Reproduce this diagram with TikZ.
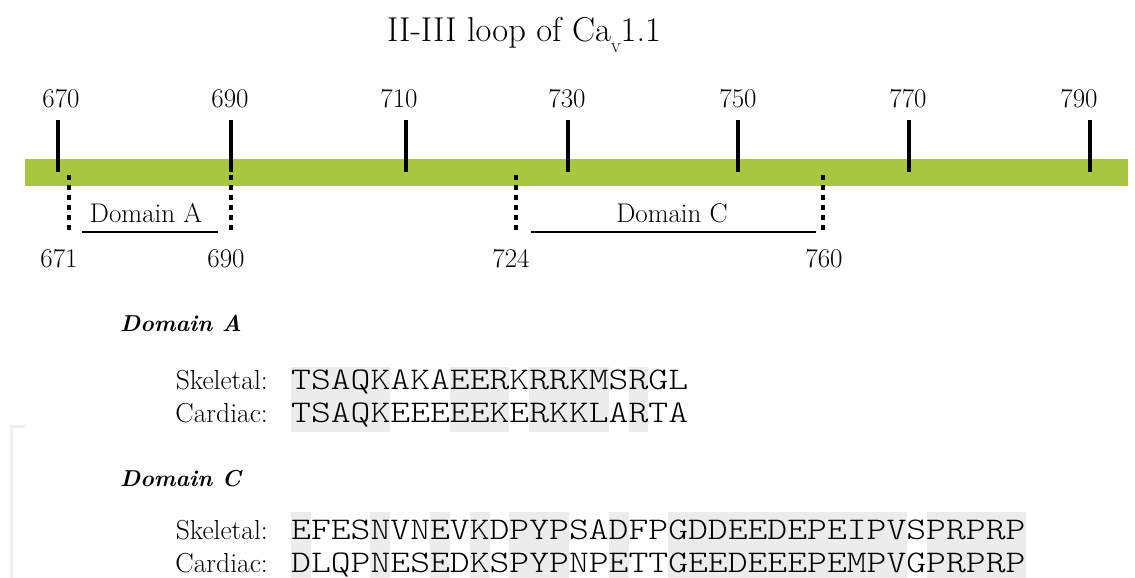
\documentclass[tikz,border=0pt]{standalone}
\usepackage{fontspec}
\newfontfamily\seqfont{lmmonolt10-regular}[Extension=.otf, FakeStretch=1.2]
\definecolor{barcolor}{RGB}{168,198,64}
\definecolor{shadegray}{RGB}{236,236,236}
\definecolor{faint}{RGB}{240,240,240}
\begin{document}
\begin{tikzpicture}[x=1pt,y=-1pt,
  lbl/.style={inner sep=0, anchor=base, font=\fontsize{27}{30}\selectfont},
  ticklin/.style={line width=3.5pt},
  dotlin/.style={line width=4.5pt, dash pattern=on 5pt off 5pt},
  ulin/.style={line width=2.5pt},
  shadebox/.style={fill=shadegray, draw=none},
  seq/.style={inner sep=0, anchor=base west, font=\seqfont\fontsize{31.5}{36}\selectfont},
  rowlbl/.style={inner sep=0, anchor=base east, font=\fontsize{27.5}{30}\selectfont},
  head/.style={inner sep=0, anchor=base west, font=\fontsize{23}{30}\selectfont\bfseries\itshape}]
\fill[white] (0,0) rectangle (1135,578);
\useasboundingbox (0,0) rectangle (1135,578);
% faint artifact
\draw[line width=3pt, faint] (25,426) -- (11,426) -- (11,578);
% title
\node[inner sep=0, anchor=base, font=\fontsize{34.5}{38}\selectfont] (title) at (524,42)
  {II-III loop of Ca\raisebox{-11pt}{\fontsize{20}{20}\selectfont v}1.1};
% bar
\fill[barcolor] (25,159) rectangle (1128,186);
% ticks and labels
\foreach \n/\tx/\lx in {670/58/61, 690/231/230, 710/406/399, 730/568/567, 750/738/738, 770/909/908, 790/1090/1079}{
  \coordinate (t\n top) at (\tx,120);
  \coordinate (t\n bot) at (\tx,172);
  \draw[ticklin] (t\n top) -- (t\n bot);
  \node[lbl] (l\n) at (\lx,107) {\n};
}
% dotted boundaries
\foreach \n/\dx/\lx in {671/69/59, 690/231/226, 724/516/511, 760/823/824}{
  \coordinate (d\n top) at (\dx,175);
  \coordinate (d\n bot) at (\dx,233);
  \draw[dotlin] (d\n top) -- (d\n bot);
  \node[lbl] (b\n) at (\lx,267) {\n};
}
% domain underlines
\coordinate (uA1) at (82,232); \coordinate (uA2) at (218,232);
\coordinate (uC1) at (531,232); \coordinate (uC2) at (816,232);
\draw[ulin] (uA1) -- (uA2);
\draw[ulin] (uC1) -- (uC2);
\node[lbl] (domA) at (146,222) {Domain A};
\node[lbl] (domC) at (672,222) {Domain C};
% shading Domain A
\foreach \a/\b in {1/5, 9/11, 13/16, 18/18}
  \fill[shadebox] ({291+(\a-1)*19.86},367) rectangle ({291+\b*19.86},432);
% shading Domain C
\foreach \a/\b in {1/1, 5/5, 8/8, 10/10, 12/14, 17/17, 20/31, 33/37}
  \fill[shadebox] ({291+(\a-1)*19.86},512) rectangle ({291+\b*19.86},578);
% Domain A section
\node[head] (hA) at (120,331) {Domain A};
\node[rowlbl] (skA) at (268,389) {Skeletal:};
\node[rowlbl] (caA) at (268,422) {Cardiac:};
\node[seq] (sqskA) at (291,389) {TSAQKAKAEERKRRKMSRGL};
\node[seq] (sqcaA) at (291,422) {TSAQKEEEEEKERKKLARTA};
% Domain C section
\node[head] (hC) at (120,486) {Domain C};
\node[rowlbl] (skC) at (268,539) {Skeletal:};
\node[rowlbl] (caC) at (268,572) {Cardiac:};
\node[seq] (sqskC) at (291,539) {EFESNVNEVKDPYPSADFPGDDEEDEPEIPVSPRPRP};
\node[seq] (sqcaC) at (291,572) {DLQPNESEDKSPYPNPETTGEEDEEEPEMPVGPRPRP};
\end{tikzpicture}
\end{document}
